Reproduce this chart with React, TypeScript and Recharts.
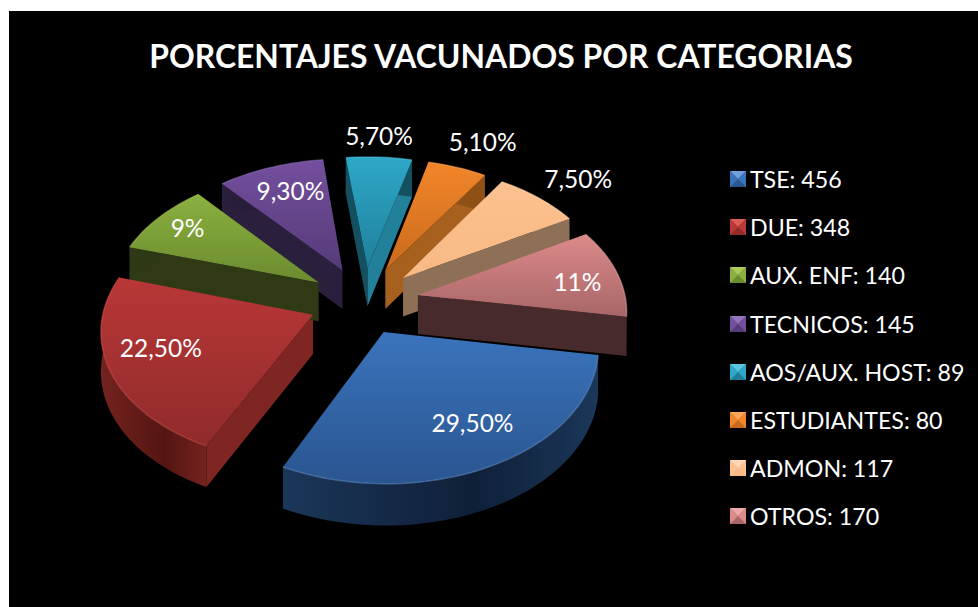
import React from "react";
import { PieChart, Pie, Legend } from "recharts";

const TITLE = "PORCENTAJES VACUNADOS POR CATEGORIAS";
const CATEGORIES = ["TSE", "DUE", "AUX. ENF", "TECNICOS", "AOS/AUX. HOST", "ESTUDIANTES", "ADMON", "OTROS"];
const COUNTS = [456, 348, 140, 145, 89, 80, 117, 170];
const PERCENT_LABELS = ["29,50%", "22,50%", "9%", "9,30%", "5,70%", "5,10%", "7,50%", "11%"];

const TOP_LIGHT = ["#3a74bd", "#b93737", "#8bb03f", "#744f9e", "#2ea8c8", "#f2862a", "#fcc18f", "#dc8a8a"];
const TOP_DARK = ["#2a558f", "#8f2b2a", "#6b8b2f", "#553b78", "#1f7f9b", "#c96a1c", "#f8b985", "#a86667"];
const HILITE = ["#6f9fdc", "#dd5a55", "#a9cc5c", "#9374bd", "#5cc6e0", "#ffa85a", "#ffd9b5", "#eeaaaa"];
const OUTER_A = ["#1b3759", "#74231f", "#2f3a15", "#2a1f3c", "#14505f", "#8f5015", "#8d7055", "#472a2c"];
const OUTER_B = ["#0f1f38", "#541512", "#2b3513", "#241a34", "#14505f", "#8f5015", "#8d7055", "#41272a"];
const START_FACE = ["#1b3759", "#7f2623", "#2f3a15", "#2a1f3c", "#14505f", "#8f5015", "#8d7055", "#472a2c"];
const END_FACE = ["#1b3759", "#7f2623", "#2f3a15", "#2a1f3c", "#22809a", "#a8601f", "#8d7055", "#472a2c"];

const LABEL_RADIUS = [0.715, 0.74, 0.82, 0.75, 1.223, 1.3, 1.292, 0.79];
const LABEL_SHIFT = [-2.4, 4.4, 0.7, 1.4, -0.6, 1.6, 1.1, 2.3];
const SLICE_NUDGE = [-6, 0, 0, 0, 0, 0, 0, 0];

const tableData = CATEGORIES.map((c, i) => ({
  name: `${c}: ${COUNTS[i]}`,
  value: COUNTS[i],
  fill: TOP_LIGHT[i],
}));

const OX = 9;
const OY = 11;
const W = 969;
const H = 596;
const CX = 364 - OX;
const CY = 301 - OY;
const R = 208;
const K = 0.62;
const D = 2000;
const EXPLODE = 55;
const DEPTH = 39;
const ROTATION = 9.6;
const RAD = Math.PI / 180;

const proj = (cx: number, cy: number, u: number, v: number) => {
  const s = D / (D - v);
  return { x: cx + u * s, y: cy + K * v * s, s };
};
const down = (p: { x: number; y: number; s: number }) => ({ x: p.x, y: p.y + DEPTH * Math.sqrt(p.s), s: p.s });
const toPath = (pts: { x: number; y: number }[], close = true) =>
  pts.map((p, i) => `${i ? "L" : "M"}${p.x.toFixed(2)} ${p.y.toFixed(2)}`).join(" ") + (close ? " Z" : "");

const geometry = (props: any, i: number) => {
  const { cx, cy, outerRadius, startAngle, endAngle, midAngle } = props;
  const a0 = -startAngle;
  const a1 = -endAngle;
  const mid = -midAngle;
  const ex = EXPLODE * Math.cos(mid * RAD) + SLICE_NUDGE[i];
  const ey = EXPLODE * Math.sin(mid * RAD);
  const n = Math.max(4, Math.ceil((a1 - a0) / 2));
  const arc = [] as { x: number; y: number; s: number }[];
  for (let j = 0; j <= n; j++) {
    const a = (a0 + ((a1 - a0) * j) / n) * RAD;
    arc.push(proj(cx, cy, ex + outerRadius * Math.cos(a), ey + outerRadius * Math.sin(a)));
  }
  return { apex: proj(cx, cy, ex, ey), arc };
};

const WallShape = (from: number, to: number) => (props: any, index: number) => {
  const i = typeof index === "number" ? index : props.index;
  if (i < from || i > to) return <g />;
  const { apex, arc } = geometry(props, i);
  const first = arc[0];
  const last = arc[arc.length - 1];
  const quad = (p: any) => [apex, p, down(p), down(apex)];
  return (
    <g>
      {first.x < apex.x && <path d={toPath(quad(first))} fill={START_FACE[i]} />}
      {last.x > apex.x && <path d={toPath(quad(last))} fill={END_FACE[i]} />}
      <path d={toPath([...arc, ...arc.map(down).reverse()])} fill={`url(#outer-${i})`} />
    </g>
  );
};

const TopShape = (props: any, index: number) => {
  const i = typeof index === "number" ? index : props.index;
  const { apex, arc } = geometry(props, i);
  return (
    <g>
      <path d={toPath([apex, ...arc])} fill={`url(#top-${i})`} />
      <path d={toPath(arc, false)} fill="none" stroke={HILITE[i]} strokeOpacity={0.45} strokeWidth={1.5} />
    </g>
  );
};

const renderLabel = (props: any) => {
  const { cx, cy, midAngle, outerRadius, index } = props;
  const mid = -midAngle;
  const a = (mid + LABEL_SHIFT[index]) * RAD;
  const r = outerRadius * LABEL_RADIUS[index];
  const p = proj(
    cx,
    cy,
    EXPLODE * Math.cos(mid * RAD) + r * Math.cos(a),
    EXPLODE * Math.sin(mid * RAD) + r * Math.sin(a)
  );
  return (
    <text
      x={p.x}
      y={p.y}
      fill="#ffffff"
      textAnchor="middle"
      dominantBaseline="central"
      fontFamily="Lato"
      fontSize={24.5}
    >
      {PERCENT_LABELS[index]}
    </text>
  );
};

const renderLegend = (props: any) => {
  const seen = new Set<string>();
  const items = (props.payload || []).filter((e: any) => {
    if (seen.has(e.value)) return false;
    seen.add(e.value);
    return true;
  });
  return (
    <div>
      {items.map((entry: any, i: number) => (
        <div
          key={entry.value}
          style={{
            height: 48.2,
            display: "flex",
            alignItems: "center",
            color: "#ffffff",
            fontFamily: "Lato",
            fontSize: 23.2,
            whiteSpace: "nowrap",
          }}
        >
          <svg width={16} height={16} style={{ marginRight: 4, flex: "none" }}>
            <rect width={16} height={16} fill={TOP_DARK[i]} />
            <path d="M0 0 L16 0 L8 8 Z" fill={HILITE[i]} />
            <path d="M0 0 L8 8 L0 16 Z" fill={TOP_LIGHT[i]} />
            <path d="M16 0 L8 8 L16 16 Z" fill={TOP_LIGHT[i]} />
          </svg>
          {entry.value}
        </div>
      ))}
    </div>
  );
};

const pieProps = {
  data: tableData,
  dataKey: "value",
  nameKey: "name",
  cx: CX,
  cy: CY,
  outerRadius: R,
  startAngle: -ROTATION,
  endAngle: -ROTATION - 360,
  stroke: "none",
  isAnimationActive: false,
};

export default function App() {
  return (
    <div style={{ position: "absolute", left: OX, top: OY, width: W, height: H, background: "#000000" }}>
      <PieChart width={W} height={H} margin={{ top: 0, right: 0, bottom: 0, left: 0 }}>
        <defs>
          {CATEGORIES.map((_, i) => (
            <linearGradient key={`t${i}`} id={`top-${i}`} x1="0" y1="0" x2="0" y2="1">
              <stop offset="0" stopColor={TOP_LIGHT[i]} />
              <stop offset="1" stopColor={TOP_DARK[i]} />
            </linearGradient>
          ))}
          {CATEGORIES.map((_, i) => (
            <linearGradient key={`o${i}`} id={`outer-${i}`} x1="0" y1="0" x2="1" y2="0">
              <stop offset="0" stopColor={OUTER_A[i]} />
              <stop offset="0.6" stopColor={OUTER_B[i]} />
              <stop offset="1" stopColor={OUTER_A[i]} />
            </linearGradient>
          ))}
        </defs>
        <text
          x={501 - OX}
          y={56 - OY}
          fill="#ffffff"
          textAnchor="middle"
          dominantBaseline="central"
          fontFamily="Lato"
          fontWeight={700}
          fontSize={31.9}
        >
          {TITLE}
        </text>
        <Pie {...pieProps} legendType="none" shape={WallShape(3, 7)} />
        <Pie {...pieProps} legendType="none" shape={WallShape(0, 2)} />
        <Pie {...pieProps} shape={TopShape} label={renderLabel} labelLine={false} />
        <Legend
          layout="vertical"
          align="right"
          verticalAlign="top"
          itemSorter={null}
          content={renderLegend}
          wrapperStyle={{ left: 730 - OX, top: 155 - OY, width: 240, margin: 0 }}
        />
      </PieChart>
    </div>
  );
}
